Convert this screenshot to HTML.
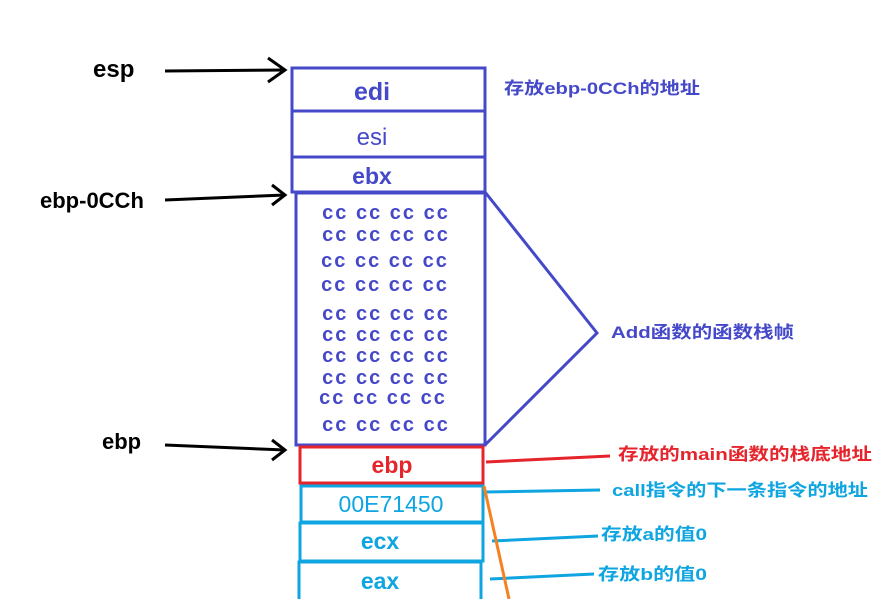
<!DOCTYPE html>
<html><head><meta charset="utf-8"><style>
body{margin:0;background:#fff}
svg text{font-family:"Liberation Sans","Noto Sans CJK SC",sans-serif}
</style></head><body>
<svg width="891" height="599" viewBox="0 0 891 599" xmlns="http://www.w3.org/2000/svg">
<g fill="none" stroke="#4549c9" stroke-width="3">
<rect x="292" y="68" width="193" height="43"/>
<rect x="292" y="111" width="193" height="46"/>
<rect x="292" y="157" width="193" height="35"/>
<rect x="296" y="193" width="189" height="252"/>
<polyline points="485,192 597,333 485,445"/>
</g>
<rect x="300" y="447" width="183" height="36" fill="none" stroke="#e5242c" stroke-width="3"/>
<g fill="none" stroke="#0ea5e0" stroke-width="3">
<rect x="301" y="486" width="182" height="36"/>
<rect x="300" y="523" width="183" height="38"/>
<rect x="299" y="562" width="182" height="40"/>
<line x1="485" y1="492" x2="600" y2="490"/>
<line x1="492" y1="541" x2="598" y2="536"/>
<line x1="490" y1="579" x2="594" y2="574"/>
</g>
<line x1="486" y1="462" x2="610" y2="456" stroke="#e5242c" stroke-width="3"/>
<line x1="484" y1="486" x2="509" y2="599" stroke="#f58220" stroke-width="3"/>
<g stroke="#000" stroke-width="3" fill="none">
<line x1="165" y1="71" x2="285" y2="70"/><polyline points="268,58 285,70 268,82"/>
<line x1="165" y1="200" x2="285" y2="195"/><polyline points="272,185 285,195 272,205"/>
<line x1="165" y1="445" x2="285" y2="450"/><polyline points="272,440 285,450 272,460"/>
</g>
<g font-weight="bold" font-size="24" fill="#000">
<text x="93" y="77">esp</text>
<text x="40" y="208" font-size="22">ebp-0CCh</text>
<text x="102" y="449" font-size="22">ebp</text>
</g>
<g fill="#4549c9" text-anchor="middle">
<text x="372" y="100" font-size="25" font-weight="bold">edi</text>
<text x="372" y="145" font-size="24">esi</text>
<text x="372" y="184" font-size="23" font-weight="bold">ebx</text>
</g>
<g fill="#4549c9" font-size="20" font-weight="bold" text-anchor="middle" letter-spacing="2">
<text x="386" y="219">cc cc cc cc</text>
<text x="386" y="241">cc cc cc cc</text>
<text x="385" y="267">cc cc cc cc</text>
<text x="385" y="291">cc cc cc cc</text>
<text x="386" y="320">cc cc cc cc</text>
<text x="386" y="341">cc cc cc cc</text>
<text x="386" y="362">cc cc cc cc</text>
<text x="386" y="384">cc cc cc cc</text>
<text x="383" y="404">cc cc cc cc</text>
<text x="386" y="431">cc cc cc cc</text>
</g>
<text x="392" y="473" font-size="23" font-weight="bold" fill="#e5242c" text-anchor="middle">ebp</text>
<g fill="#0ea5e0" text-anchor="middle">
<text x="391" y="512" font-size="23">00E71450</text>
<text x="380" y="549" font-size="23" font-weight="bold">ecx</text>
<text x="380" y="589" font-size="23" font-weight="bold">eax</text>
</g>
<g font-size="17" font-weight="bold">
<text x="504" y="94" fill="#4549c9" textLength="196" lengthAdjust="spacingAndGlyphs">存放ebp-0CCh的地址</text>
<text x="611" y="338" fill="#4549c9" textLength="183" lengthAdjust="spacingAndGlyphs">Add函数的函数栈帧</text>
<text x="618" y="460" fill="#e5242c" textLength="254" lengthAdjust="spacingAndGlyphs">存放的main函数的栈底地址</text>
<text x="612" y="496" fill="#0ea5e0" textLength="256" lengthAdjust="spacingAndGlyphs">call指令的下一条指令的地址</text>
<text x="601" y="540" fill="#0ea5e0" textLength="106" lengthAdjust="spacingAndGlyphs">存放a的值0</text>
<text x="598" y="580" fill="#0ea5e0" textLength="109" lengthAdjust="spacingAndGlyphs">存放b的值0</text>
</g>
</svg>
</body></html>
